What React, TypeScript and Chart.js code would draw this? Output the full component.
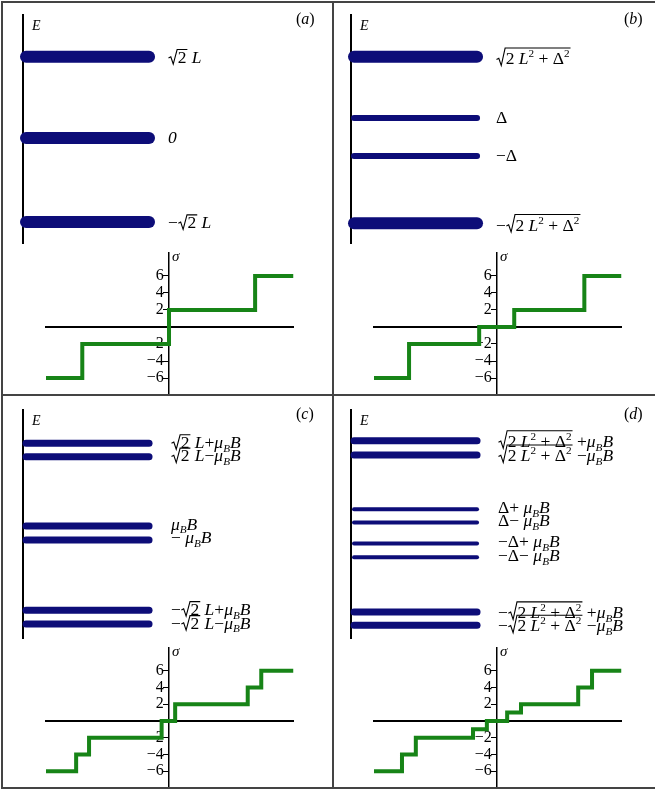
import React, { useEffect, useRef } from 'react';
import { Chart, registerables } from 'chart.js';

Chart.register(...registerables);

const SERIF = '"Liberation Serif", "Times New Roman", serif';
const NAVY = '#0d0d78';
const GREEN = '#178417';

// ---------- data ----------
// Energy levels (units of L), bar thickness, labels
const levelsA = [1.4, 0, -1.45];
const widthsA = [12, 12, 12];
const labelsA = ['√{2} L', '*0', '−√{2} L'];

const levelsB = [1.4, 0.345, -0.31, -1.47];
const widthsB = [12, 6, 6, 12];
const labelsB = ['√{2 L^2 + Δ^2}', 'Δ', '−Δ', '−√{2 L^2 + Δ^2}'];

const levelsC = [1.547, 1.316, 0.12, -0.12, -1.33, -1.57];
const widthsC = [7, 7, 7, 7, 7, 7];
const labelsC = ['√{2} L+μ_BB', '√{2} L−μ_BB', 'μ_BB', '− μ_BB', '−√{2} L+μ_BB', '−√{2} L−μ_BB'];

const levelsD = [1.59, 1.345, 0.41, 0.18, -0.18, -0.42, -1.36, -1.59];
const widthsD = [7, 7, 4, 4, 4, 4, 7, 7];
const labelsD = [
  '√{2 L^2 + Δ^2} +μ_BB',
  '√{2 L^2 + Δ^2} −μ_BB',
  'Δ+ μ_BB',
  'Δ− μ_BB',
  '−Δ+ μ_BB',
  '−Δ− μ_BB',
  '−√{2 L^2 + Δ^2} +μ_BB',
  '−√{2 L^2 + Δ^2} −μ_BB',
];

// sigma step functions: jump positions (x) and new values (y)
const stepXA = [-2, -1.41, 0, 1.4, 2.02];
const stepYA = [-6, -2, 2, 6, 6];
const stepXB = [-2, -1.43, -0.29, 0.28, 1.42, 2.02];
const stepYB = [-6, -2, 0, 2, 6, 6];
const stepXC = [-2, -1.51, -1.3, -0.12, 0.1, 1.28, 1.5, 2.02];
const stepYC = [-6, -4, -2, 0, 2, 4, 6, 6];
const stepXD = [-2, -1.545, -1.32, -0.39, -0.165, 0.165, 0.39, 1.32, 1.545, 2.02];
const stepYD = [-6, -4, -2, -1, 0, 1, 2, 4, 6, 6];

const sigmaTicks = [-6, -4, -2, 2, 4, 6];
const panelTags = ['(a)', '(b)', '(c)', '(d)'];

// ---------- layout constants ----------
const PW = 328;
const PH = 395;
const E_MIN = -1.81;
const E_MAX = 2.12;
const BAR_START = 0.022;
const BAR_END = 0.92;
const S_XMIN = -2.0;
const S_XMAX = 2.016;
const S_YMIN = -7.88;
const S_YMAX = 8.7;
const LABEL_FS = 17.5;

// ---------- tiny math text renderer ----------
type MTok =
  | { t: 'txt'; s: string; it: boolean; dy: number; k: number }
  | { t: 'sqrt'; c: MTok[] };

const isIt = (c: string) => /[A-Za-zμσ]/.test(c);

function parseMath(src: string): MTok[] {
  const out: MTok[] = [];
  let i = 0;
  while (i < src.length) {
    const c = src[i];
    if (c === '√' && src[i + 1] === '{') {
      let depth = 0;
      let j = i + 1;
      for (; j < src.length; j++) {
        if (src[j] === '{') depth++;
        else if (src[j] === '}') {
          depth--;
          if (depth === 0) break;
        }
      }
      out.push({ t: 'sqrt', c: parseMath(src.slice(i + 2, j)) });
      i = j + 1;
    } else if (c === '^' || c === '_') {
      const ch = src[i + 1];
      out.push({ t: 'txt', s: ch, it: isIt(ch), dy: c === '^' ? -0.4 : 0.22, k: 0.64 });
      i += 2;
    } else if (c === '*') {
      out.push({ t: 'txt', s: src[i + 1], it: true, dy: 0, k: 1 });
      i += 2;
    } else {
      out.push({ t: 'txt', s: c, it: isIt(c), dy: 0, k: 1 });
      i++;
    }
  }
  return out;
}

const fontFor = (tk: { it: boolean; k: number }, fs: number) =>
  `${tk.it ? 'italic ' : ''}${(fs * tk.k).toFixed(2)}px ${SERIF}`;

function measureMath(ctx: CanvasRenderingContext2D, toks: MTok[], fs: number) {
  let w = 0;
  let top = 0;
  let bot = 0;
  for (const tk of toks) {
    if (tk.t === 'txt') {
      ctx.font = fontFor(tk, fs);
      const m = ctx.measureText(tk.s);
      w += m.width;
      if (tk.s.trim()) {
        top = Math.min(top, tk.dy * fs - m.actualBoundingBoxAscent);
        bot = Math.max(bot, tk.dy * fs + m.actualBoundingBoxDescent);
      }
    } else {
      const inner = measureMath(ctx, tk.c, fs);
      w += fs * 0.55 + inner.w + 1;
      top = Math.min(top, inner.top - 2);
      bot = Math.max(bot, inner.bot, 1.5);
    }
  }
  return { w, top, bot };
}

function drawMath(ctx: CanvasRenderingContext2D, toks: MTok[], x0: number, base: number, fs: number) {
  let x = x0;
  for (const tk of toks) {
    if (tk.t === 'txt') {
      ctx.font = fontFor(tk, fs);
      ctx.fillText(tk.s, x, base + tk.dy * fs);
      x += ctx.measureText(tk.s).width;
    } else {
      const inner = measureMath(ctx, tk.c, fs);
      const rw = fs * 0.55;
      const yTop = base + inner.top - 2;
      ctx.beginPath();
      ctx.moveTo(x + 0.5, base - 0.26 * fs);
      ctx.lineTo(x + 0.16 * fs, base - 0.33 * fs);
      ctx.lineTo(x + 0.3 * fs, base + 1.5);
      ctx.lineTo(x + rw - 0.5, yTop);
      ctx.lineTo(x + rw + inner.w + 1, yTop);
      ctx.stroke();
      drawMath(ctx, tk.c, x + rw, base, fs);
      x += rw + inner.w + 1;
    }
  }
  return x;
}

// ---------- panel ----------
type PanelProps = {
  ox: number;
  oy: number;
  levels: number[];
  widths: number[];
  labels: string[];
  labelGap: number;
  tag: string;
  stepX: number[];
  stepY: number[];
  bottom: number;
};

function Panel(p: PanelProps) {
  const eRef = useRef<HTMLCanvasElement>(null);
  const sRef = useRef<HTMLCanvasElement>(null);

  useEffect(() => {
    const energyPlugin = {
      id: 'energyLabels',
      afterDraw(chart: any) {
        const ctx: CanvasRenderingContext2D = chart.ctx;
        const ys = chart.scales.y;
        const area = chart.chartArea;
        ctx.save();
        ctx.fillStyle = '#000';
        ctx.strokeStyle = '#000';
        ctx.lineWidth = 1.1;
        ctx.textAlign = 'left';
        ctx.textBaseline = 'alphabetic';
        p.labels.forEach((lab, i) => {
          const toks = parseMath(lab);
          const m = measureMath(ctx, toks, LABEL_FS);
          const py = ys.getPixelForValue(p.levels[i]);
          const base = py - (m.top + m.bot) / 2;
          drawMath(ctx, toks, area.right + p.labelGap, base, LABEL_FS);
        });
        ctx.font = `italic 14px ${SERIF}`;
        ctx.fillText('E', area.left + 9, area.top + 15);
        drawMath(ctx, parseMath(p.tag), PW - 32, 24, 16);
        ctx.restore();
      },
    };

    const energy = new Chart(eRef.current as HTMLCanvasElement, {
      type: 'line',
      data: {
        datasets: p.levels.map((v, i) => ({
          data: [
            { x: BAR_START, y: v },
            { x: BAR_END, y: v },
          ],
          borderColor: NAVY,
          borderWidth: p.widths[i],
          borderCapStyle: 'round',
          pointRadius: 0,
          clip: false,
          fill: false,
        })),
      },
      options: {
        animation: false,
        responsive: false,
        events: [],
        layout: { padding: { left: 23, top: 15, right: PW - 160, bottom: PH - 243 } },
        plugins: { legend: { display: false }, tooltip: { enabled: false } },
        scales: {
          x: { type: 'linear', min: 0, max: 1, display: false },
          y: {
            type: 'linear',
            min: E_MIN,
            max: E_MAX,
            position: 'left',
            grid: { display: false, drawTicks: false },
            ticks: { display: false },
            border: { display: true, color: '#000', width: 2 },
            afterFit: (s: any) => {
              s.width = 0;
              s.paddingTop = 0;
              s.paddingBottom = 0;
              s.paddingLeft = 0;
              s.paddingRight = 0;
            },
          },
        },
      } as any,
      plugins: [energyPlugin],
    });

    const sigmaPlugin = {
      id: 'sigmaTitle',
      afterDraw(chart: any) {
        const ctx: CanvasRenderingContext2D = chart.ctx;
        const x0 = chart.scales.x.getPixelForValue(0);
        ctx.save();
        ctx.fillStyle = '#000';
        ctx.font = `italic 15px ${SERIF}`;
        ctx.textAlign = 'left';
        ctx.textBaseline = 'alphabetic';
        ctx.fillText('σ', x0 + 3, chart.chartArea.top + 8);
        ctx.restore();
      },
    };

    const zeroPad = (s: any) => {
      s.paddingTop = 0;
      s.paddingBottom = 0;
      s.paddingLeft = 0;
      s.paddingRight = 0;
    };

    const sigma = new Chart(sRef.current as HTMLCanvasElement, {
      type: 'line',
      data: {
        datasets: [
          {
            data: p.stepX.map((x, i) => ({ x, y: p.stepY[i] })),
            borderColor: GREEN,
            borderWidth: 4,
            stepped: 'before',
            pointRadius: 0,
            clip: false,
            fill: false,
            borderJoinStyle: 'miter',
          },
        ],
      },
      options: {
        animation: false,
        responsive: false,
        events: [],
        layout: { padding: { left: 46, top: 253, right: PW - 293, bottom: PH - p.bottom } },
        plugins: { legend: { display: false }, tooltip: { enabled: false } },
        scales: {
          x: {
            type: 'linear',
            min: S_XMIN,
            max: S_XMAX,
            position: { y: 0 },
            grid: { display: false, drawTicks: false },
            ticks: { display: false },
            border: { display: true, color: '#000', width: 2 },
            afterFit: (s: any) => {
              s.height = 0;
              zeroPad(s);
            },
          },
          y: {
            type: 'linear',
            min: S_YMIN,
            max: S_YMAX,
            position: { x: 0 },
            grid: {
              display: true,
              drawOnChartArea: false,
              drawTicks: true,
              tickLength: 5,
              color: '#000',
              lineWidth: 1,
            },
            border: { display: true, color: '#000', width: 1.5 },
            ticks: {
              color: '#000',
              padding: 1,
              font: { family: SERIF, size: 16 },
              callback: (v: any) => String(v).replace('-', '−') + '\u2004',
            },
            afterBuildTicks: (s: any) => {
              s.ticks = sigmaTicks.map((v) => ({ value: v }));
            },
            afterFit: (s: any) => {
              s.width = 0;
              zeroPad(s);
            },
          },
        },
      } as any,
      plugins: [sigmaPlugin],
    });

    return () => {
      energy.destroy();
      sigma.destroy();
    };
  }, []);

  const cstyle: React.CSSProperties = { position: 'absolute', left: 0, top: 0 };
  return (
    <div style={{ position: 'absolute', left: p.ox, top: p.oy, width: PW, height: PH }}>
      <canvas ref={eRef} width={PW} height={PH} style={cstyle} />
      <canvas ref={sRef} width={PW} height={PH} style={cstyle} />
    </div>
  );
}

const line = (l: number, t: number, w: number, h: number): React.CSSProperties => ({
  position: 'absolute',
  left: l,
  top: t,
  width: w,
  height: h,
  background: '#444',
});

export default function App() {
  useEffect(() => {
    document.body.style.margin = '0';
  }, []);
  return (
    <div style={{ position: 'relative', width: 655, height: 791, background: '#fff', overflow: 'hidden' }}>
      <Panel ox={0} oy={0} levels={levelsA} widths={widthsA} labels={labelsA} labelGap={8} tag={panelTags[0]} stepX={stepXA} stepY={stepYA} bottom={394} />
      <Panel ox={328} oy={0} levels={levelsB} widths={widthsB} labels={labelsB} labelGap={8} tag={panelTags[1]} stepX={stepXB} stepY={stepYB} bottom={394} />
      <Panel ox={0} oy={395} levels={levelsC} widths={widthsC} labels={labelsC} labelGap={11} tag={panelTags[2]} stepX={stepXC} stepY={stepYC} bottom={392} />
      <Panel ox={328} oy={395} levels={levelsD} widths={widthsD} labels={labelsD} labelGap={10} tag={panelTags[3]} stepX={stepXD} stepY={stepYD} bottom={392} />
      <div style={line(1, 1, 654, 1.5)} />
      <div style={line(1, 1, 1.5, 788)} />
      <div style={line(332, 1, 1.5, 788)} />
      <div style={line(1, 394, 654, 1.5)} />
      <div style={line(1, 787, 654, 1.5)} />
    </div>
  );
}
